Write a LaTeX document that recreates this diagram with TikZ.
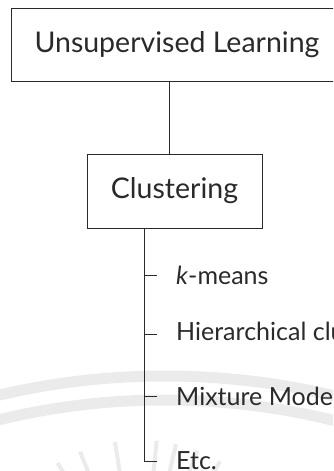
\documentclass[tikz,border=0pt]{standalone}
\usepackage{fontspec}
\setmainfont{Lato}
\usetikzlibrary{calc}
\definecolor{ink}{HTML}{2A2A2A}
\definecolor{wmark}{HTML}{EBEBEB}
\begin{document}
\begin{tikzpicture}[x=1pt,y=-1pt,
  box/.style={draw=ink, line width=0.9pt, fill=white, font=\fontsize{28.5}{32}\selectfont, text=ink, inner sep=0pt},
  lab/.style={font=\fontsize{25}{28}\selectfont, text=ink, inner sep=0pt, anchor=west},
  ln/.style={draw=ink, line width=0.9pt},
  wm/.style={draw=wmark, line width=11pt},
  ray/.style={draw=wmark, line width=4pt}]
\useasboundingbox (0,0) rectangle (333,471);
\clip (0,0) rectangle (333,471);
% faint watermark
\draw[wm] (165,1100) circle (724pt);
\draw[wm] (165,1100) circle (700pt);
\foreach \a in {-30,-21,-13,-6,9,22,31}{
  \draw[ray] ($(140,600)+(90+\a:160pt)$) -- ($(140,600)+(90+\a:128pt)$);
}
% boxes
\node[box, minimum width=332pt, minimum height=73pt] (ul) at (177,44.5) {Unsupervised Learning};
\node[box, minimum width=175pt, minimum height=74pt] (cl) at (174.5,191) {Clustering};
\draw[ln] ([xshift=-8pt]ul.south) -- ([xshift=-5.5pt]cl.north);
% labels
\node[lab] (k) at (176,275) {\textit{k}-means};
\node[lab] (h) at (176,334) {Hierarchical clustering};
\node[lab] (m) at (176,396) {Mixture Models};
\node[lab] (e) at (176,461) {Etc.};
\coordinate (t0) at ([xshift=-30.5pt]cl.south);
\draw[ln] (t0) -- (t0 |- e.west) -- ([xshift=-19pt]e.west);
\foreach \n in {k,h,m}{
  \draw[ln] (t0 |- \n.west) -- ([xshift=-19pt]\n.west);
}
\end{tikzpicture}
\end{document}
